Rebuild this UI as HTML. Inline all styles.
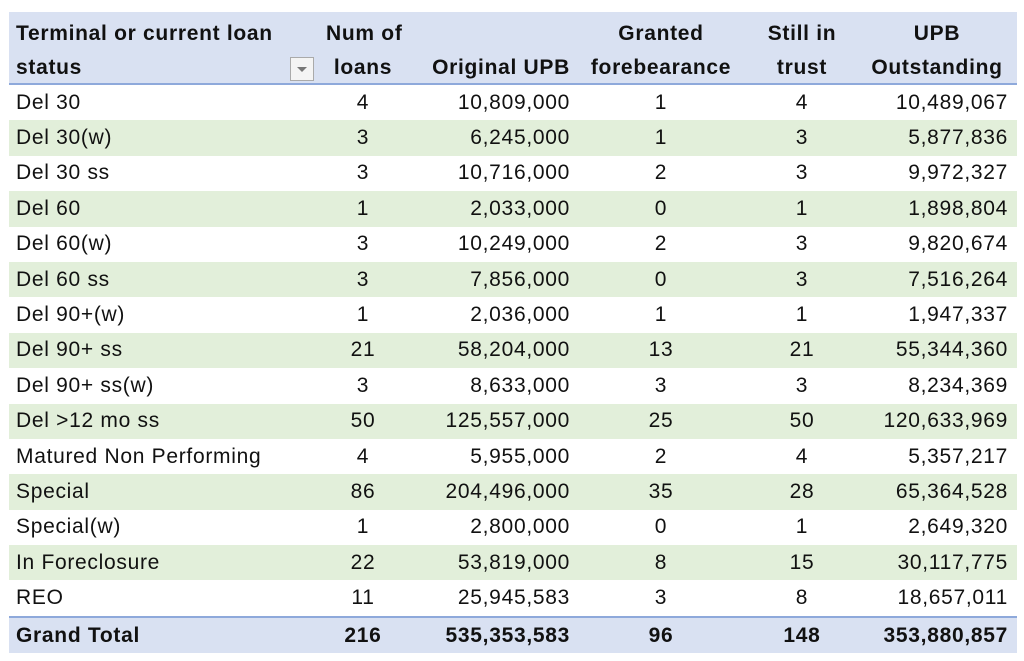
<!DOCTYPE html>
<html><head><style>
body{margin:0;background:#fff;width:1024px;height:661px;overflow:hidden;font-family:"Liberation Sans",sans-serif;color:#111;}
table{position:absolute;left:9px;top:15px;width:1008px;border-collapse:collapse;font-size:21px;letter-spacing:0.7px;table-layout:fixed;}
td,th{padding:0 7px;height:35.4px;white-space:nowrap;}
th{font-weight:bold;background:#d9e1f2;line-height:30px;}
thead tr:first-child th{padding-top:4px;height:32px;box-sizing:border-box}
thead tr:last-child th{border-bottom:2px solid #8ea9db;padding-top:3px;height:31px}
tbody tr:nth-child(even) td{background:#e2efda;}
tbody tr.tot td{background:#d9e1f2 !important;font-weight:bold;border-top:2px solid #8ea9db;}
.l{text-align:left}.r{text-align:right}.c{text-align:center}
td:last-child,th:last-child{padding-right:9px}
.dd{display:inline-block;width:22px;height:22px;border:1px solid #aaa;background:#f4f4f4;vertical-align:middle;position:relative;float:right;margin-top:4px;margin-right:-2px}
.dd:after{content:"";position:absolute;left:6px;top:9px;border-left:5px solid transparent;border-right:5px solid transparent;border-top:5px solid #777}
.hdbg{position:absolute;left:9px;top:12px;width:1008px;height:4px;background:#d9e1f2}
</style></head><body>
<div class="hdbg"></div>
<table>
<colgroup><col style="width:310px"><col style="width:88px"><col style="width:170px"><col style="width:168px"><col style="width:114px"><col style="width:158px"></colgroup>
<thead>
<tr><th class="l">Terminal or current loan</th><th class="c">Num of</th><th></th><th class="c">Granted</th><th class="c">Still in</th><th class="c">UPB</th></tr>
<tr><th class="l">status<span class="dd"></span></th><th class="c">loans</th><th class="r">Original UPB</th><th class="c">forebearance</th><th class="c">trust</th><th class="c">Outstanding</th></tr>
</thead>
<tbody>
<tr><td>Del 30</td><td class="c">4</td><td class="r">10,809,000</td><td class="c">1</td><td class="c">4</td><td class="r">10,489,067</td></tr>
<tr><td>Del 30(w)</td><td class="c">3</td><td class="r">6,245,000</td><td class="c">1</td><td class="c">3</td><td class="r">5,877,836</td></tr>
<tr><td>Del 30 ss</td><td class="c">3</td><td class="r">10,716,000</td><td class="c">2</td><td class="c">3</td><td class="r">9,972,327</td></tr>
<tr><td>Del 60</td><td class="c">1</td><td class="r">2,033,000</td><td class="c">0</td><td class="c">1</td><td class="r">1,898,804</td></tr>
<tr><td>Del 60(w)</td><td class="c">3</td><td class="r">10,249,000</td><td class="c">2</td><td class="c">3</td><td class="r">9,820,674</td></tr>
<tr><td>Del 60 ss</td><td class="c">3</td><td class="r">7,856,000</td><td class="c">0</td><td class="c">3</td><td class="r">7,516,264</td></tr>
<tr><td>Del 90+(w)</td><td class="c">1</td><td class="r">2,036,000</td><td class="c">1</td><td class="c">1</td><td class="r">1,947,337</td></tr>
<tr><td>Del 90+ ss</td><td class="c">21</td><td class="r">58,204,000</td><td class="c">13</td><td class="c">21</td><td class="r">55,344,360</td></tr>
<tr><td>Del 90+ ss(w)</td><td class="c">3</td><td class="r">8,633,000</td><td class="c">3</td><td class="c">3</td><td class="r">8,234,369</td></tr>
<tr><td>Del &gt;12 mo ss</td><td class="c">50</td><td class="r">125,557,000</td><td class="c">25</td><td class="c">50</td><td class="r">120,633,969</td></tr>
<tr><td>Matured Non Performing</td><td class="c">4</td><td class="r">5,955,000</td><td class="c">2</td><td class="c">4</td><td class="r">5,357,217</td></tr>
<tr><td>Special</td><td class="c">86</td><td class="r">204,496,000</td><td class="c">35</td><td class="c">28</td><td class="r">65,364,528</td></tr>
<tr><td>Special(w)</td><td class="c">1</td><td class="r">2,800,000</td><td class="c">0</td><td class="c">1</td><td class="r">2,649,320</td></tr>
<tr><td>In Foreclosure</td><td class="c">22</td><td class="r">53,819,000</td><td class="c">8</td><td class="c">15</td><td class="r">30,117,775</td></tr>
<tr><td>REO</td><td class="c">11</td><td class="r">25,945,583</td><td class="c">3</td><td class="c">8</td><td class="r">18,657,011</td></tr>
<tr class="tot"><td>Grand Total</td><td class="c">216</td><td class="r">535,353,583</td><td class="c">96</td><td class="c">148</td><td class="r">353,880,857</td></tr>
</tbody></table>
</body></html>
